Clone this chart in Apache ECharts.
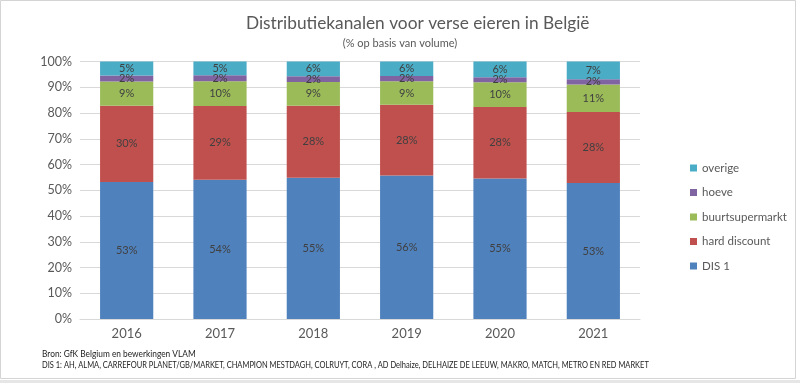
<!DOCTYPE html>
<html>
<head>
<meta charset="utf-8">
<script src="https://cdn.jsdelivr.net/npm/echarts@6/dist/echarts.min.js"></script>
<style>
html,body{margin:0;padding:0;background:#fff;}
#c{width:800px;height:383px;}
</style>
</head>
<body>
<div id="c"></div>
<script>
const years = ['2016','2017','2018','2019','2020','2021'];
const dis1 = [53.2, 54.1, 54.9, 55.7, 54.6, 52.8];
const hardDiscount = [29.6, 28.6, 27.9, 27.5, 27.7, 27.6];
const buurtsupermarkt = [9.4, 9.6, 9.2, 9.1, 9.6, 10.7];
const hoeve = [2.4, 2.4, 2.3, 2.1, 2.0, 2.0];
const overige = [5.4, 5.3, 5.7, 5.6, 6.1, 6.9];
const yTicks = [0,10,20,30,40,50,60,70,80,90,100];

const FONT = 'Lato, "Open Sans", sans-serif';
const chart = echarts.init(document.getElementById('c'), null, {renderer:'canvas'});

function mk(name, data, color){
  return {
    name, type:'bar', stack:'total', data, barCategoryGap:'43%',
    itemStyle:{color},
    label:{show:true, position:'inside', fontFamily:FONT, fontSize:11, color:'#404040',
      formatter:p=>Math.round(p.value)+'%'},
    emphasis:{disabled:true}
  };
}

chart.setOption({
  animation:false,
  backgroundColor:'#fff',
  title:[
    {text:'Distributiekanalen voor verse eieren in België', left:241, top:10,
     textStyle:{fontFamily:FONT, fontSize:17.3, fontWeight:'normal', color:'#595959'}},
    {text:'(% op basis van volume)', left:'center', top:33,
     textStyle:{fontFamily:FONT, fontSize:11, fontWeight:'normal', color:'#595959'}}
  ],
  legend:{
    orient:'vertical', left:685, top:156, itemWidth:7, itemHeight:7, itemGap:10.5,
    icon:'rect',
    data:['overige','hoeve','buurtsupermarkt','hard discount','DIS 1'],
    textStyle:{fontFamily:FONT, fontSize:11.5, color:'#595959', lineHeight:14}
  },
  grid:{left:80, right:160, top:61.5, bottom:64},
  xAxis:{
    type:'category', data:years,
    axisLine:{lineStyle:{color:'#d9d9d9'}},
    axisTick:{show:false},
    axisLabel:{fontFamily:FONT, fontSize:13, color:'#595959', margin:8}
  },
  yAxis:{
    type:'value', min:yTicks[0], max:yTicks[yTicks.length-1], interval:10,
    axisLine:{show:false}, axisTick:{show:false},
    splitLine:{lineStyle:{color:'#d9d9d9'}},
    axisLabel:{fontFamily:FONT, fontSize:12.5, color:'#595959', margin:8, formatter:'{value}%'}
  },
  series:[
    mk('DIS 1', dis1, '#4F81BD'),
    mk('hard discount', hardDiscount, '#C0504D'),
    mk('buurtsupermarkt', buurtsupermarkt, '#9BBB59'),
    mk('hoeve', hoeve, '#8064A2'),
    mk('overige', overige, '#4BACC6')
  ],
  graphic:[
    {type:'rect', shape:{x:0.5,y:0.5,width:795,height:378}, style:{fill:null, stroke:'#d4d4d4', lineWidth:1}, silent:true},
    {type:'rect', shape:{x:0,y:380,width:800,height:3}, style:{fill:'#e6e6e6'}, silent:true},
    {type:'text', x:42, y:350, scaleX:0.98, style:{x:0, y:0, text:'Bron: GfK Belgium en bewerkingen VLAM', fontFamily:FONT, fontSize:8.5, fill:'#222', textVerticalAlign:'top'}},
    {type:'text', x:42, y:360.5, scaleX:0.88, style:{x:0, y:0, text:'DIS 1: AH, ALMA, CARREFOUR PLANET/GB/MARKET, CHAMPION MESTDAGH, COLRUYT, CORA , AD Delhaize, DELHAIZE DE LEEUW, MAKRO, MATCH, METRO EN RED MARKET', fontFamily:FONT, fontSize:8.5, fill:'#222', textVerticalAlign:'top'}}
  ]
});
</script>
</body>
</html>
